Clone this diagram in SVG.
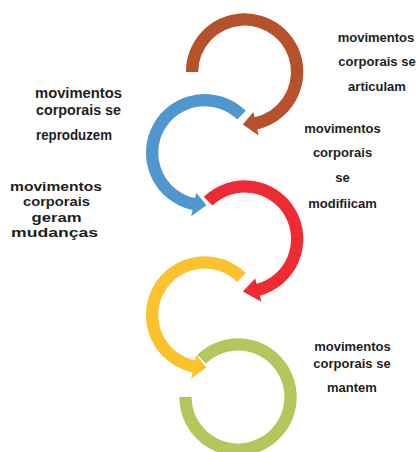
<svg xmlns="http://www.w3.org/2000/svg" width="420" height="452" viewBox="0 0 420 452">
<style>
text{font-family:"Liberation Sans",Arial,sans-serif;font-weight:bold;fill:#1e1e1e}
.s13{font-size:13px;text-anchor:middle}
.s14{font-size:14px}
.s16{font-size:13.7px;text-anchor:middle}
</style>
<rect width="420" height="452" fill="#ffffff"/>
<g id="connectors"></g>
<g id="brown">
<path fill="#B5522B" d="M185.9 72 A58.7 58.7 0 1 1 257.2 129.3 L258.6 135.5 L242.8 124.5 L253.4 112 L254.6 117.3 A46.4 46.4 0 1 0 198.2 72 Z"/>
<text class="s13" x="376" y="42">movimentos</text>
<text class="s13" x="377" y="66">corporais se</text>
<text class="s13" x="377" y="91">articulam</text>
</g>
<g id="blue">
<path fill="#5197CF" d="M245.8 110.8 A58.7 58.7 0 1 0 192.5 210.1 L191.2 216.3 L206.5 205.2 L196.2 192.8 L195.1 198.1 A46.4 46.4 0 1 1 237.2 119.6 Z"/>
<text class="s14" x="35" y="98" textLength="87" lengthAdjust="spacingAndGlyphs">movimentos</text>
<text class="s14" x="36" y="115" textLength="85" lengthAdjust="spacingAndGlyphs">corporais se</text>
<text class="s14" x="36" y="140" textLength="76" lengthAdjust="spacingAndGlyphs">reproduzem</text>
</g>
<g id="red">
<path fill="#EE2B33" d="M203.8 196.8 A58.7 58.7 0 1 1 259.8 295.7 L261.4 301.8 L242.8 291.5 L255.2 278.6 L256.6 283.8 A46.4 46.4 0 1 0 212.4 205.6 Z"/>
<text class="s13" x="342.5" y="133">movimentos</text>
<text class="s13" x="342.5" y="157">corporais</text>
<text class="s13" x="342.5" y="182">se</text>
<text class="s13" x="342.5" y="208">modifiicam</text>
</g>
<g id="yellow">
<path fill="#FBC22D" d="M245.8 273.1 A58.7 58.7 0 1 0 192.5 372.4 L191.2 378.6 L206.5 367.5 L196.2 355.1 L195.1 360.4 A46.4 46.4 0 1 1 237.2 281.9 Z"/>
<text class="s16" x="56" y="191" textLength="92" lengthAdjust="spacingAndGlyphs">movimentos</text>
<text class="s16" x="56.5" y="206.3" textLength="67" lengthAdjust="spacingAndGlyphs">corporais</text>
<text class="s16" x="56.5" y="221.6" textLength="50" lengthAdjust="spacingAndGlyphs">geram</text>
<text class="s16" x="54.5" y="236.9" textLength="87" lengthAdjust="spacingAndGlyphs">mudanças</text>
</g>
<g id="green">
<path fill="#B5C65C" d="M197.2 354.8 A58.7 58.7 0 1 1 179.3 397 L191.6 397 A46.4 46.4 0 1 0 205.8 363.6 Z"/>
<text class="s13" x="352.5" y="351">movimentos</text>
<text class="s13" x="352" y="368">corporais se</text>
<text class="s13" x="352" y="392">mantem</text>
</g>
</svg>
